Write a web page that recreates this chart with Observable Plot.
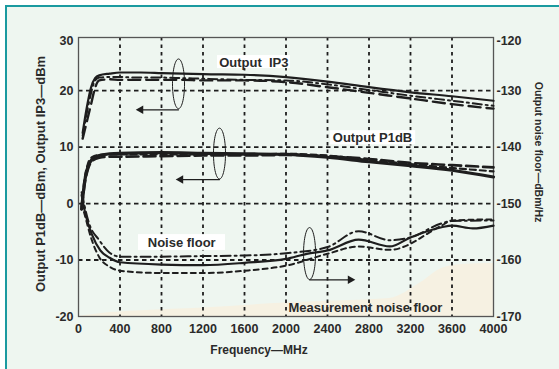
<!DOCTYPE html>
<html><head><meta charset="utf-8">
<script src="https://cdn.jsdelivr.net/npm/d3@7"></script>
<script src="https://cdn.jsdelivr.net/npm/@observablehq/plot@0.6"></script>
<style>
body{margin:0;background:#fff;}
#wrap{position:relative;width:559px;height:369px;overflow:hidden;}
#panel{position:absolute;left:5px;top:5px;right:0;bottom:0;background:#eef6f0;border-left:2px solid #1a9aa0;border-top:2px solid #1a9aa0;}
#chart{position:absolute;left:0;top:0;}
</style></head>
<body><div id="wrap"><div id="panel"></div><div id="chart"></div></div>
<script>
// ---- axes / ticks ----
const xTicks = [0,400,800,1200,1600,2000,2400,2800,3200,3600,4000];
const yTicks = [-20,-10,0,10,20];              // dBm (left)
const yTopTick = [30];
const xGrid = [400,800,1200,1600,2000,2400,2800,3200,3600];
const yGrid = [-10,0,10,20];
const rightOffset = -150;                       // dBm/Hz = dBm - 150

// ---- Output IP3 (dBm) ----
const ip3Freq   = [40,80,120,160,200,300,400,600,800,1000,1200,1600,2000,2400,2800,3200,3600,4000];
const ip3Solid  = [12.5,17,20.5,22.2,22.7,23.0,23.2,23.2,23.1,23.0,22.9,22.8,22.4,21.6,20.6,19.7,19.0,18.2];
const ip3Dash   = [11.5,14.5,17.5,20.5,21.8,22.0,21.9,21.9,21.9,21.9,21.8,21.8,21.5,20.6,19.6,18.6,17.6,16.8];
const ip3DashDot= [12,16,19.5,21.8,22.3,22.4,22.4,22.3,22.3,22.2,22.1,21.9,21.8,21.1,20.1,19.1,18.2,17.3];

// ---- Output P1dB (dBm) ----
const p1Freq    = [30,60,90,130,200,300,400,800,1200,1600,2000,2400,2800,3200,3600,4000];
const p1Solid   = [-1,4,6.5,7.8,8.5,8.8,8.9,9.0,8.9,8.8,8.7,8.2,7.4,6.7,5.9,4.7];
const p1Dash    = [-1,3.5,6,7.5,8.1,8.3,8.3,8.4,8.5,8.5,8.6,8.4,7.9,7.2,6.8,6.4];
const p1Dash2   = [-0.5,4.5,7,8.2,8.6,8.7,8.7,8.7,8.7,8.7,8.8,8.5,7.7,7.0,6.3,5.7];

// ---- Output noise floor (dBm/Hz) ----
const nfFreqA   = [30,70,130,210,300,400,800,1200,1600,2000,2200,2400,2700,3000,3200,3500,3600,3800,4000];
const nfSolid   = [-148.5,-152.1,-155.5,-158.3,-159.6,-160.4,-160.8,-160.9,-160.5,-159.8,-158.9,-158.3,-156.4,-157.6,-156.0,-154.2,-153.9,-154.4,-153.9];
const nfFreqB   = [30,100,200,300,400,800,1200,1600,2000,2400,2700,3000,3200,3500,3600,4000];
const nfDashDot = [-148,-153.4,-156.5,-158.7,-159.4,-159.4,-159.3,-159.2,-158.8,-157.7,-154.9,-156.5,-156.0,-153.5,-153.1,-153.0];
const nfFreqC   = [30,60,120,200,300,400,800,1200,1600,2000,2400,2700,3000,3500,3600,4000];
const nfDash    = [-150,-152,-156,-159.5,-161.2,-161.9,-162.3,-162.3,-161.9,-161.0,-158.9,-157.6,-158.2,-153.9,-153.0,-152.8];

// ---- Measurement noise floor (dBm/Hz) ----
const mnfFreq   = [0,200,600,1200,2000,2400,3000,3300,3500,3700,4000];
const mnfLevel  = [-170,-169.5,-169,-168.5,-167.6,-167.3,-166.8,-164,-161.5,-160.8,-160.6];

// ---- annotations (data units) ----
const labels = [
  {text:"Output  IP3", f:1690, v:25.0, box:[1340,2043,23.9,26.2]},
  {text:"Output P1dB", f:2834, v:11.6, box:[2430,3250,10.4,12.9]},
  {text:"Noise floor", f:995, v:-6.9, box:[578,1417,-8.3,-5.5]}
];
const measLabel = [{text:"Measurement noise floor", f:2766, v:-18.4}];
const ellipses = [ {f:964, v:21.2, rf:58, rv:4.4}, {f:1359, v:8.85, rf:58, rv:4.5}, {f:2227, v:-8.85, rf:58, rv:4.6} ];
const arrows = [ {f1:964, f2:600, v:16.6}, {f1:1359, f2:985, v:4.25}, {f1:2227, f2:2620, v:-13.5} ];

const zip = (fs, vs, off=0) => fs.map((f,i)=>({f, v: vs[i] - off}));
const ell = e => d3.range(0, 61).map(i => { const t = i/60*2*Math.PI; return {f: e.f + e.rf*Math.cos(t), v: e.v + e.rv*Math.sin(t)}; });

const ink = "#1e1e1e";
const txt = "#2a2a2a";
const lineOpts = (w, dash) => ({x:"f", y:"v", stroke:ink, strokeWidth:w, strokeDasharray:dash, curve:"monotone-x"});
const tickText = {tickSize:0, label:null, fill:txt, fontSize:12.5, fontWeight:"bold"};

const chart = Plot.plot({
  width:559, height:369,
  marginLeft:78, marginRight:66, marginTop:37, marginBottom:53,
  style:{background:"transparent", fontFamily:"'Liberation Sans', Arial, sans-serif", fontSize:"12.5px", fontWeight:"bold", color:txt},
  x:{domain:[0,4000]},
  y:{domain:[-20,29.4]},
  marks:[
    Plot.areaY(zip(mnfFreq, mnfLevel, rightOffset), {x:"f", y1:-20, y2:"v", fill:"#f6f1e2", curve:"monotone-x"}),
    Plot.ruleX(xGrid, {stroke:ink, strokeWidth:1.8, strokeDasharray:"3.5,4"}),
    Plot.ruleY(yGrid, {stroke:ink, strokeWidth:1.8, strokeDasharray:"4.5,3.5"}),
    Plot.frame({stroke:"#555", strokeWidth:1.3}),
    Plot.rect(labels, {x1:d=>d.box[0], x2:d=>d.box[1], y1:d=>d.box[2], y2:d=>d.box[3], fill:"#fff"}),
    Plot.text(labels, {x:"f", y:"v", text:"text", fill:txt, fontSize:13, fontWeight:"bold"}),
    Plot.text(measLabel, {x:"f", y:"v", text:"text", fill:txt, fontSize:13, fontWeight:"bold"}),
    // IP3
    Plot.line(zip(ip3Freq, ip3Solid), lineOpts(2.2)),
    Plot.line(zip(ip3Freq, ip3Dash), lineOpts(2.4, "12,6")),
    Plot.line(zip(ip3Freq, ip3DashDot), lineOpts(2, "9,4,2,4")),
    // P1dB
    Plot.line(zip(p1Freq, p1Solid), lineOpts(3.2)),
    Plot.line(zip(p1Freq, p1Dash), lineOpts(2.6, "12,5")),
    Plot.line(zip(p1Freq, p1Dash2), lineOpts(2.2, "6,4")),
    // noise floor
    Plot.line(zip(nfFreqA, nfSolid, rightOffset), lineOpts(2.2)),
    Plot.line(zip(nfFreqB, nfDashDot, rightOffset), lineOpts(2, "10,4,2,4")),
    Plot.line(zip(nfFreqC, nfDash, rightOffset), lineOpts(2, "5,4")),
    // ellipses and arrows
    ...ellipses.map(e => Plot.line(ell(e), {x:"f", y:"v", stroke:ink, strokeWidth:1})),
    Plot.arrow(arrows, {x1:"f1", x2:"f2", y1:"v", y2:"v", stroke:ink, strokeWidth:1.2, headLength:0}),
    Plot.dot(arrows, {x:"f2", y:"v", symbol:"triangle", rotate:d => d.f2 < d.f1 ? -90 : 90, r:3.2, fill:ink, stroke:null}),
    // axes
    Plot.axisX({ticks:xTicks, tickFormat:d=>String(d), tickPadding:8, ...tickText}),
    Plot.axisY({anchor:"left", ticks:yTicks, tickFormat:d=>String(d), tickPadding:5, ...tickText}),
    Plot.axisY({anchor:"left", ticks:yTopTick, tickFormat:d=>String(d), tickPadding:5, dy:7, ...tickText}),
    Plot.axisY({anchor:"right", ticks:yTicks, tickFormat:d=>String(d+rightOffset), tickPadding:3, ...tickText}),
    Plot.axisY({anchor:"right", ticks:yTopTick, tickFormat:d=>String(d+rightOffset), tickPadding:3, dy:7, ...tickText}),
    Plot.text(["Output P1dB\u2014dBm, Output IP3\u2014dBm"], {frameAnchor:"left", textAnchor:"middle", lineAnchor:"middle", rotate:-90, dx:-38, dy:-3, fill:txt, fontSize:13, fontWeight:"bold"}),
    Plot.text(["Output noise floor\u2014dBm/Hz"], {frameAnchor:"right", textAnchor:"middle", lineAnchor:"middle", rotate:90, dx:45, dy:-25, fill:txt, fontSize:10.5, fontWeight:"bold"}),
    Plot.text(["Frequency\u2014MHz"], {frameAnchor:"bottom", textAnchor:"middle", lineAnchor:"top", dx:-27, dy:29, fill:txt, fontSize:12, fontWeight:"bold"})
  ]
});
document.getElementById("chart").appendChild(chart);
</script></body></html>
